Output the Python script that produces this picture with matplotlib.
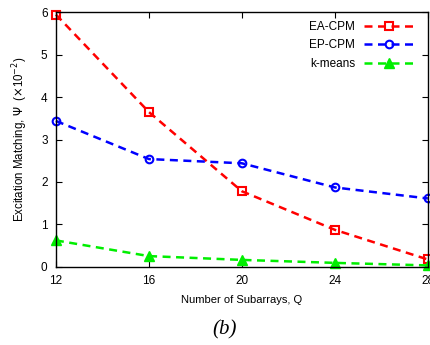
import numpy as np
import matplotlib.pyplot as plt

plt.rcParams['font.family'] = ['Liberation Sans', 'DejaVu Sans']

# ------------------- data
Q = [12, 16, 20, 24, 28]
ea_cpm = [5.95, 3.65, 1.78, 0.87, 0.17]
ep_cpm = [3.44, 2.54, 2.44, 1.87, 1.61]
kmeans = [0.62, 0.25, 0.16, 0.09, 0.03]

# ------------------- plot
fig = plt.figure(figsize=(4.3, 3.45), dpi=100)
ax = fig.add_axes([0.130, 0.227, 0.865, 0.737])

dash = (0, (3.2, 2.2))
ax.plot(Q, ea_cpm, linestyle=dash, color='red', lw=1.8, marker='s', ms=5.5,
        mfc='none', mew=1.5, label='EA-CPM', clip_on=False)
ax.plot(Q, ep_cpm, linestyle=dash, color='blue', lw=1.8, marker='o', ms=5.5,
        mfc='none', mew=1.5, label='EP-CPM', clip_on=False)
ax.plot(Q, kmeans, linestyle=dash, color='#00ee00', lw=1.8, marker='^', ms=6.5,
        mfc='#00ee00', mec='#00ee00', label='k-means', clip_on=False)

ax.set_xlim(12, 28)
ax.set_ylim(0, 6)
ax.set_xticks(Q)
ax.set_yticks(range(0, 7))
ax.tick_params(direction='in', top=True, right=True, labelsize=8.5, length=4, pad=6)
for s in ax.spines.values():
    s.set_linewidth(1.0)

ax.set_xlabel('Number of Subarrays, Q', fontsize=8, labelpad=6)
ax.set_ylabel(r'Excitation Matching, $\Psi$  ($\times$10$^{-2}$)', fontsize=8.3, labelpad=8)

ax.legend(loc='upper right', frameon=False, markerfirst=False, fontsize=8.5,
          handlelength=4.2, borderaxespad=0.3, labelspacing=0.55,
          bbox_to_anchor=(0.985, 1.0))

fig.text(0.523, 0.043, '(b)', fontsize=15, family='Liberation Serif', style='italic',
         ha='center', va='center')

fig.savefig('out.png', dpi=100)
